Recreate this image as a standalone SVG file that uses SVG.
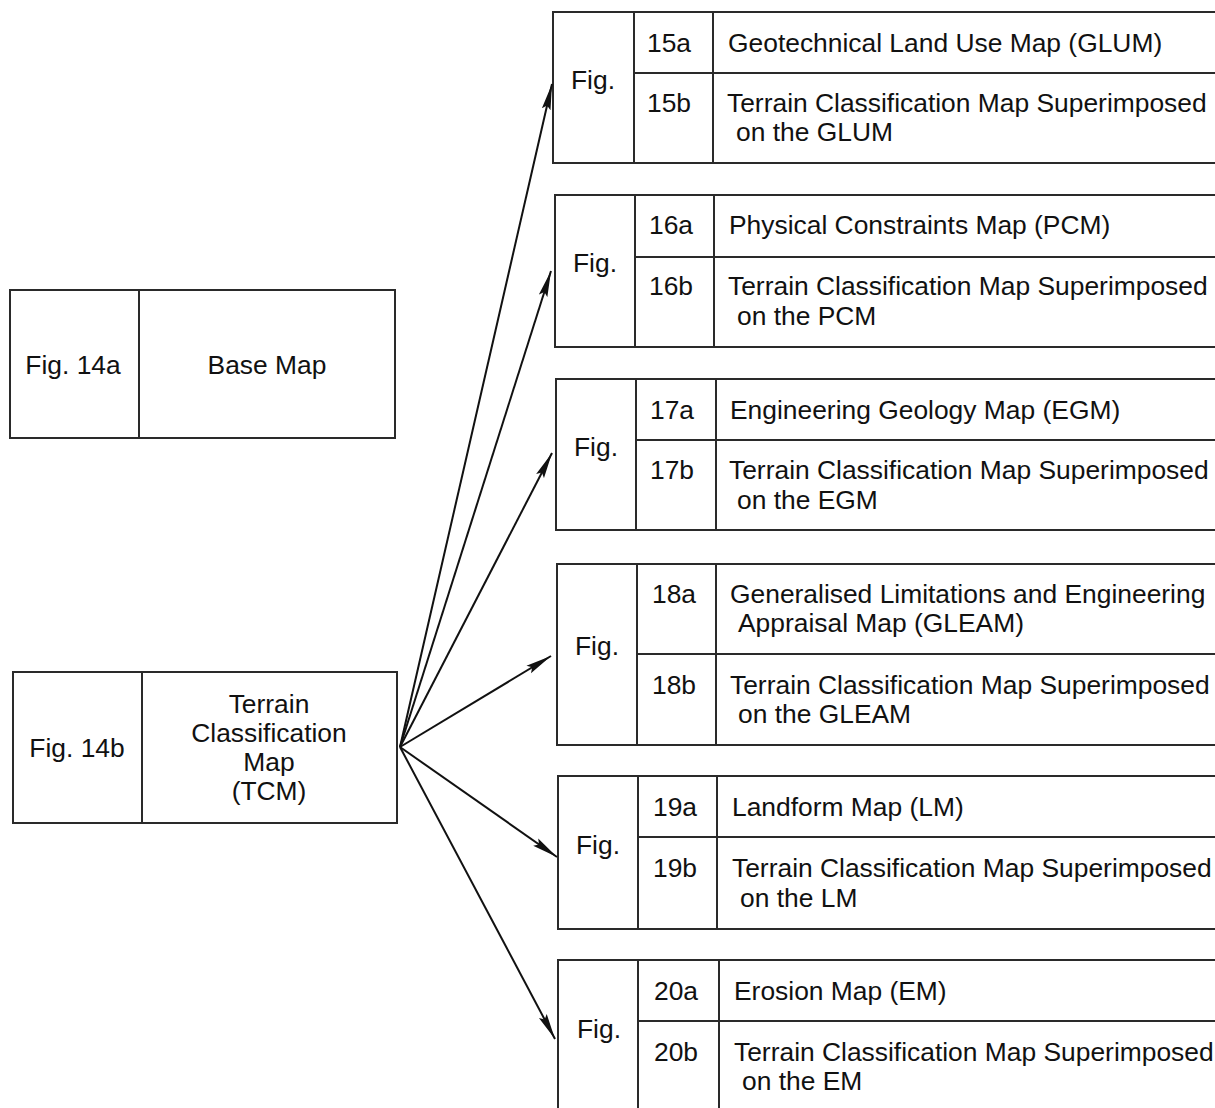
<svg xmlns="http://www.w3.org/2000/svg" width="1215" height="1108" viewBox="0 0 1215 1108">
<style>
.box{fill:none;stroke:#2a2a2a;stroke-width:2}
.ln{stroke:#2a2a2a;stroke-width:2}
text{font-family:"Liberation Sans",Arial,sans-serif;font-size:26.4px;fill:#111}
.c{text-anchor:middle}
.con{stroke:#111;stroke-width:2;fill:none;marker-end:url(#ah)}
</style>
<defs>
<marker id="ah" viewBox="0 0 26 10" refX="26" refY="5" markerWidth="26" markerHeight="10" markerUnits="userSpaceOnUse" orient="auto">
<path d="M0,0.6 L26,5 L0,9.4 L4,5 z" fill="#111"/>
</marker>
</defs>
<rect width="1215" height="1108" fill="#fff"/>

<g id="n14a">
<rect class="box" x="10" y="290" width="385" height="148"/>
<line class="ln" x1="139" y1="290" x2="139" y2="438"/>
<text class="c" x="73" y="374">Fig. 14a</text>
<text class="c" x="267" y="374">Base Map</text>
</g>

<g id="n14b">
<rect class="box" x="13" y="672" width="384" height="151"/>
<line class="ln" x1="142" y1="672" x2="142" y2="823"/>
<text class="c" x="77" y="757">Fig. 14b</text>
<text class="c" x="269" y="713">Terrain</text>
<text class="c" x="269" y="742">Classification</text>
<text class="c" x="269" y="771">Map</text>
<text class="c" x="269" y="800">(TCM)</text>
</g>

<g id="n15">
<rect class="box" x="553" y="12" width="700" height="151"/>
<line class="ln" x1="634" y1="12" x2="634" y2="163"/>
<line class="ln" x1="713" y1="12" x2="713" y2="163"/>
<line class="ln" x1="634" y1="73" x2="1215" y2="73"/>
<text class="c" x="593" y="89">Fig.</text>
<text class="c" x="669" y="52">15a</text>
<text class="c" x="669" y="112">15b</text>
<text x="728" y="52">Geotechnical Land Use Map (GLUM)</text>
<text x="727" y="112">Terrain Classification Map Superimposed</text>
<text x="736" y="141">on the GLUM</text>
</g>

<g id="n16">
<rect class="box" x="555" y="195" width="700" height="152"/>
<line class="ln" x1="635" y1="195" x2="635" y2="347"/>
<line class="ln" x1="714" y1="195" x2="714" y2="347"/>
<line class="ln" x1="635" y1="257" x2="1215" y2="257"/>
<text class="c" x="595" y="272">Fig.</text>
<text class="c" x="671" y="234">16a</text>
<text class="c" x="671" y="295">16b</text>
<text x="729" y="234">Physical Constraints Map (PCM)</text>
<text x="728" y="295">Terrain Classification Map Superimposed</text>
<text x="737" y="325">on the PCM</text>
</g>

<g id="n17">
<rect class="box" x="556" y="379" width="700" height="151"/>
<line class="ln" x1="636" y1="379" x2="636" y2="530"/>
<line class="ln" x1="716" y1="379" x2="716" y2="530"/>
<line class="ln" x1="636" y1="440" x2="1215" y2="440"/>
<text class="c" x="596" y="456">Fig.</text>
<text class="c" x="672" y="419">17a</text>
<text class="c" x="672" y="479">17b</text>
<text x="730" y="419">Engineering Geology Map (EGM)</text>
<text x="729" y="479">Terrain Classification Map Superimposed</text>
<text x="737" y="509">on the EGM</text>
</g>

<g id="n18">
<rect class="box" x="557" y="564" width="700" height="181"/>
<line class="ln" x1="637" y1="564" x2="637" y2="745"/>
<line class="ln" x1="716" y1="564" x2="716" y2="745"/>
<line class="ln" x1="637" y1="654" x2="1215" y2="654"/>
<text class="c" x="597" y="655">Fig.</text>
<text class="c" x="674" y="603">18a</text>
<text class="c" x="674" y="694">18b</text>
<text x="730" y="603">Generalised Limitations and Engineering</text>
<text x="738" y="632">Appraisal Map (GLEAM)</text>
<text x="730" y="694">Terrain Classification Map Superimposed</text>
<text x="738" y="723">on the GLEAM</text>
</g>

<g id="n19">
<rect class="box" x="558" y="776" width="700" height="153"/>
<line class="ln" x1="638" y1="776" x2="638" y2="929"/>
<line class="ln" x1="717" y1="776" x2="717" y2="929"/>
<line class="ln" x1="638" y1="837" x2="1215" y2="837"/>
<text class="c" x="598" y="854">Fig.</text>
<text class="c" x="675" y="816">19a</text>
<text class="c" x="675" y="877">19b</text>
<text x="732" y="816">Landform Map (LM)</text>
<text x="732" y="877">Terrain Classification Map Superimposed</text>
<text x="740" y="907">on the LM</text>
</g>

<g id="n20">
<rect class="box" x="558" y="960" width="700" height="170"/>
<line class="ln" x1="638" y1="960" x2="638" y2="1110"/>
<line class="ln" x1="719" y1="960" x2="719" y2="1110"/>
<line class="ln" x1="638" y1="1021" x2="1215" y2="1021"/>
<text class="c" x="599" y="1038">Fig.</text>
<text class="c" x="676" y="1000">20a</text>
<text class="c" x="676" y="1061">20b</text>
<text x="734" y="1000">Erosion Map (EM)</text>
<text x="734" y="1061">Terrain Classification Map Superimposed</text>
<text x="742" y="1090">on the EM</text>
</g>

<g id="connectors">
<line class="con" x1="400" y1="747" x2="552" y2="84"/>
<line class="con" x1="400" y1="747" x2="551" y2="271"/>
<line class="con" x1="400" y1="747" x2="552" y2="453"/>
<line class="con" x1="400" y1="747" x2="551" y2="656"/>
<line class="con" x1="400" y1="747" x2="557" y2="857"/>
<line class="con" x1="400" y1="747" x2="555" y2="1039"/>
</g>
</svg>
